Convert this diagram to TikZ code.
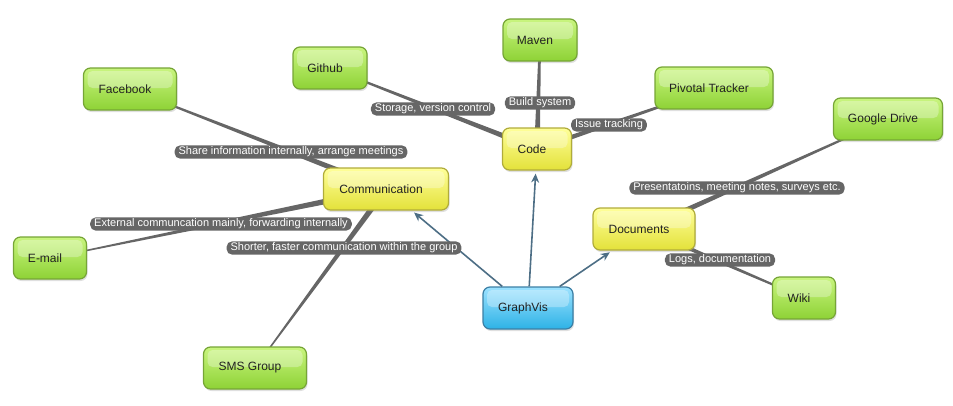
\documentclass[tikz,border=0pt]{standalone}
\usepackage{fontspec}
\setmainfont{Liberation Sans}
\usepackage{xcolor}
\usetikzlibrary{positioning,arrows.meta,backgrounds,calc,shadows}
\definecolor{leaftop}{HTML}{C9F57F}
\definecolor{leafbot}{HTML}{8ED236}
\definecolor{leafline}{HTML}{76A536}
\definecolor{subtop}{HTML}{FFFF9A}
\definecolor{subbot}{HTML}{E3E13A}
\definecolor{subline}{HTML}{B0AC3A}
\definecolor{roottop}{HTML}{9DE2FF}
\definecolor{rootbot}{HTML}{2DB2E6}
\definecolor{rootline}{HTML}{3B7FA5}
\definecolor{edgegrey}{HTML}{666666}
\definecolor{arrowblue}{HTML}{4D6E85}
\definecolor{inktext}{HTML}{222222}
\tikzset{%
topic/.style={draw,line width=1.2pt,rounded corners=7pt,minimum height=42pt,
  text=inktext,font=\fontsize{12}{14}\selectfont,
  execute at begin node=\hspace*{-10pt},
  drop shadow={opacity=.25,shadow xshift=1pt,shadow yshift=-2pt},
  path picture={\fill[white,opacity=.3,rounded corners=5pt]
    ([xshift=4pt,yshift=-3pt]path picture bounding box.north west) rectangle
    ([xshift=-4pt,yshift=1pt]path picture bounding box.east);}},
leaf/.style={topic,draw=leafline,top color=leaftop,bottom color=leafbot},
sub/.style={topic,draw=subline,top color=subtop,bottom color=subbot},
root/.style={topic,draw=rootline,top color=roottop,bottom color=rootbot},
edgelabel/.style={fill=edgegrey,text=white,rounded corners=5.5pt,inner xsep=4pt,
  inner ysep=1.5pt,font=\fontsize{11}{12.5}\selectfont},
link/.style={draw=arrowblue,line width=1.6pt,shorten >=3pt,
  -{Stealth[length=9pt,width=8pt]}}
}
% tapered connector: from, to, half width at from, half width at to
\newcommand{\taperedge}[4]{%
  \fill[edgegrey] ($(#1)!#3!90:(#2)$) -- ($(#2)!#4!-90:(#1)$)
    -- ($(#2)!#4!90:(#1)$) -- ($(#1)!#3!-90:(#2)$) -- cycle;}

\begin{document}
\begin{tikzpicture}[x=1pt,y=-1pt]
  \useasboundingbox (0,0) rectangle (953,405);

  % centre and subtopics
  \node[root,minimum width=90pt] (graphvis) at (528,308) {GraphVis};
  \node[sub,minimum width=125pt] (comm) at (386,189) {Communication};
  \node[sub,minimum width=69pt] (code) at (537,149) {Code};
  \node[sub,minimum width=102pt] (docs) at (644,229) {Documents};

  % leaves
  \node[leaf,minimum width=93pt] (facebook) at (130,89) {Facebook};
  \node[leaf,minimum width=73pt] (email) at (50,258) {E-mail};
  \node[leaf,minimum width=103pt] (sms) at (255,368) {SMS Group};
  \node[leaf,minimum width=74pt] (github) at (330,68) {Github};
  \node[leaf,minimum width=74pt] (maven) at (540,40) {Maven};
  \node[leaf,minimum width=118pt] (pivotal) at (714,88) {Pivotal Tracker};
  \node[leaf,minimum width=109pt] (gdrive) at (888,119) {Google Drive};
  \node[leaf,minimum width=63pt] (wiki) at (804,298) {Wiki};

  \begin{scope}[on background layer]
    \taperedge{comm}{facebook}{3pt}{0.7pt}
    \taperedge{comm}{email}{3.2pt}{0.5pt}
    \taperedge{comm}{sms}{3pt}{0.5pt}
    \taperedge{code}{github}{2.8pt}{0.8pt}
    \taperedge{code}{maven}{2.8pt}{1pt}
    \taperedge{code}{pivotal}{2.5pt}{0.8pt}
    \taperedge{docs}{gdrive}{2.8pt}{0.7pt}
    \taperedge{docs}{wiki}{2.3pt}{0.8pt}
  \end{scope}

  % arrows from the centre
  \draw[link] (graphvis) -- (comm);
  \draw[link] (graphvis) -- (code);
  \draw[link] (graphvis) -- (docs);

  % labels on the connectors
  \node[edgelabel] (lshare) at (291,152) {Share information internally, arrange meetings};
  \node[edgelabel] (lexternal) at (221,224) {External communcation mainly, forwarding internally};
  \node[edgelabel] (lshorter) at (344,248) {Shorter, faster communication within the group};
  \node[edgelabel] (lstorage) at (433,109) {Storage, version control};
  \node[edgelabel] (lbuild) at (540,103) {Build system};
  \node[edgelabel] (lissue) at (609,125) {Issue tracking};
  \node[edgelabel] (lpresent) at (737,188) {Presentatoins, meeting notes, surveys etc.};
  \node[edgelabel] (llogs) at (720,260) {Logs, documentation};
\end{tikzpicture}
\end{document}
